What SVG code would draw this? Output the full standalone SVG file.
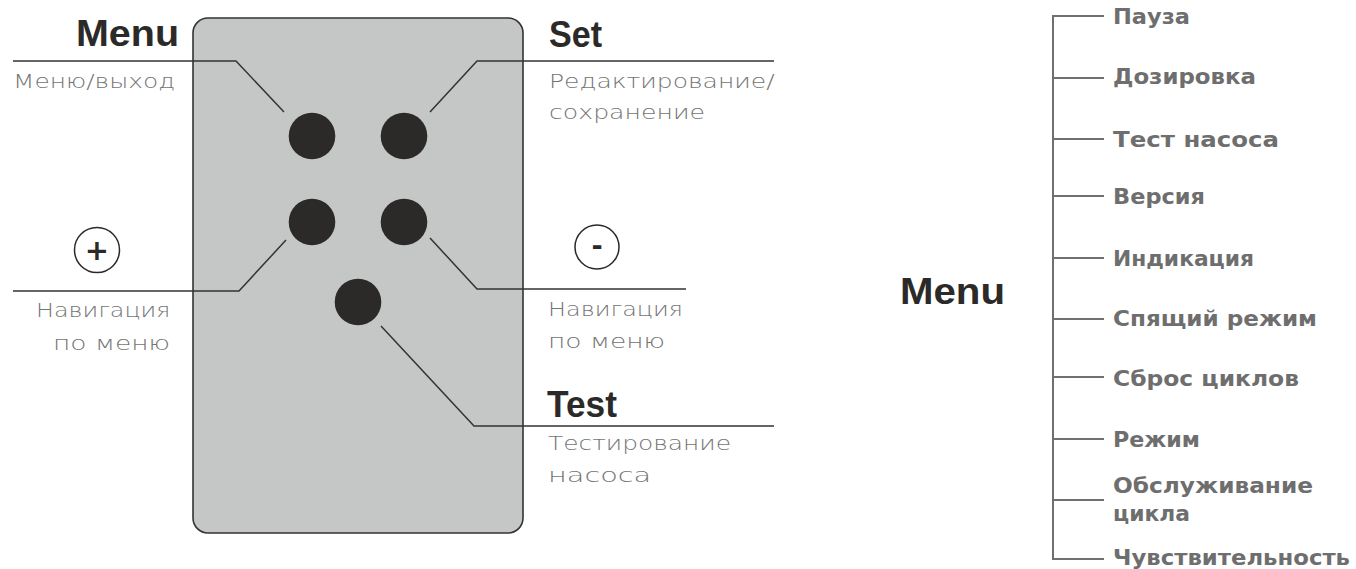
<svg xmlns="http://www.w3.org/2000/svg" width="1356" height="569" viewBox="0 0 1356 569">
<style>
.bg{fill:#ffffff}
.body{fill:#c5c6c6;stroke:#333333;stroke-width:1.6}
.btn{fill:#2b2a29}
.lead{fill:none;stroke:#333333;stroke-width:1.5}
.ring{fill:none;stroke:#2b2a29;stroke-width:1.5}
.tree{fill:none;stroke:#707070;stroke-width:2}
.title{font-family:"Liberation Sans",Arial,sans-serif;font-weight:bold;font-size:37px;fill:#2b2a29}
.light{font-family:"DejaVu Sans ExtraLight","DejaVu Sans",sans-serif;font-weight:200;font-size:20px;fill:#747474}
.item{font-family:"DejaVu Sans",sans-serif;font-weight:bold;font-size:22px;fill:#6e6e6e}
.sym{font-family:"DejaVu Sans",sans-serif;font-weight:bold;fill:#2b2a29;text-anchor:middle}
</style>
<rect class="bg" x="0" y="0" width="1356" height="569"/>

<g id="panel">
<rect class="body" x="193" y="18" width="330" height="515" rx="15" ry="15"/>
</g>

<g id="buttons">
<circle class="btn" cx="312" cy="136" r="23.3"/>
<circle class="btn" cx="404" cy="136" r="23.3"/>
<circle class="btn" cx="312" cy="222" r="23.3"/>
<circle class="btn" cx="404" cy="222" r="23.3"/>
<circle class="btn" cx="358" cy="302" r="23.3"/>
</g>

<g id="connectors">
<path class="lead" d="M13,61 H236 L284,112"/>
<path class="lead" d="M774,61 H477 L430,112"/>
<path class="lead" d="M13,291 H239 L286,240"/>
<path class="lead" d="M686,289 H477 L430,238"/>
<path class="lead" d="M774,426 H474 L381,326"/>
<path class="tree" d="M1104,16 H1053 V559 H1104"/>
<path class="tree" d="M1053,78 H1104 M1053,139 H1104 M1053,196 H1104 M1053,258 H1104 M1053,319 H1104 M1053,377 H1104 M1053,439 H1104 M1053,500 H1104"/>
</g>

<g id="node-menu">
<text class="title" x="76" y="46" textLength="103" lengthAdjust="spacingAndGlyphs">Menu</text>
<text class="light" transform="translate(13,88) scale(1.2,1)" x="0" y="0" textLength="135" lengthAdjust="spacingAndGlyphs">Меню/выход</text>
</g>

<g id="node-set">
<text class="title" x="549" y="47" textLength="53" lengthAdjust="spacingAndGlyphs">Set</text>
<text class="light" transform="translate(549,88) scale(1.2,1)" x="0" y="0" textLength="188" lengthAdjust="spacingAndGlyphs">Редактирование/</text>
<text class="light" transform="translate(549,119) scale(1.2,1)" x="0" y="0" textLength="130" lengthAdjust="spacingAndGlyphs">сохранение</text>
</g>

<g id="node-plus">
<circle class="ring" cx="97" cy="250" r="22.5"/>
<text class="sym" x="97" y="260" font-size="29">+</text>
<text class="light" transform="translate(36,317) scale(1.2,1)" x="0" y="0" textLength="112" lengthAdjust="spacingAndGlyphs">Навигация</text>
<text class="light" transform="translate(53,350) scale(1.2,1)" x="0" y="0" textLength="97.5" lengthAdjust="spacingAndGlyphs">по меню</text>
</g>

<g id="node-minus">
<circle class="ring" cx="597" cy="247" r="22"/>
<text class="sym" x="597" y="255" font-size="27">-</text>
<text class="light" transform="translate(548,316) scale(1.2,1)" x="0" y="0" textLength="112.5" lengthAdjust="spacingAndGlyphs">Навигация</text>
<text class="light" transform="translate(548,348) scale(1.2,1)" x="0" y="0" textLength="97.5" lengthAdjust="spacingAndGlyphs">по меню</text>
</g>

<g id="node-test">
<text class="title" x="547" y="417" textLength="70" lengthAdjust="spacingAndGlyphs">Test</text>
<text class="light" transform="translate(548,450) scale(1.2,1)" x="0" y="0" textLength="152.5" lengthAdjust="spacingAndGlyphs">Тестирование</text>
<text class="light" transform="translate(548,482) scale(1.2,1)" x="0" y="0" textLength="86" lengthAdjust="spacingAndGlyphs">насоса</text>
</g>

<g id="node-menu-tree">
<text class="title" x="900" y="304" textLength="105" lengthAdjust="spacingAndGlyphs">Menu</text>
</g>

<g id="menu-items">
<text class="item" x="1113" y="24" textLength="77" lengthAdjust="spacingAndGlyphs">Пауза</text>
<text class="item" x="1113" y="84" textLength="143" lengthAdjust="spacingAndGlyphs">Дозировка</text>
<text class="item" x="1113" y="147" textLength="166" lengthAdjust="spacingAndGlyphs">Тест насоса</text>
<text class="item" x="1113" y="204" textLength="92" lengthAdjust="spacingAndGlyphs">Версия</text>
<text class="item" x="1113" y="266" textLength="141" lengthAdjust="spacingAndGlyphs">Индикация</text>
<text class="item" x="1113" y="326" textLength="204" lengthAdjust="spacingAndGlyphs">Спящий режим</text>
<text class="item" x="1113" y="386" textLength="186" lengthAdjust="spacingAndGlyphs">Сброс циклов</text>
<text class="item" x="1113" y="447" textLength="87" lengthAdjust="spacingAndGlyphs">Режим</text>
<text class="item" x="1113" y="493" textLength="200" lengthAdjust="spacingAndGlyphs">Обслуживание</text>
<text class="item" x="1113" y="521" textLength="77" lengthAdjust="spacingAndGlyphs">цикла</text>
<text class="item" x="1113" y="565" textLength="237" lengthAdjust="spacingAndGlyphs">Чувствительность</text>
</g>
</svg>
